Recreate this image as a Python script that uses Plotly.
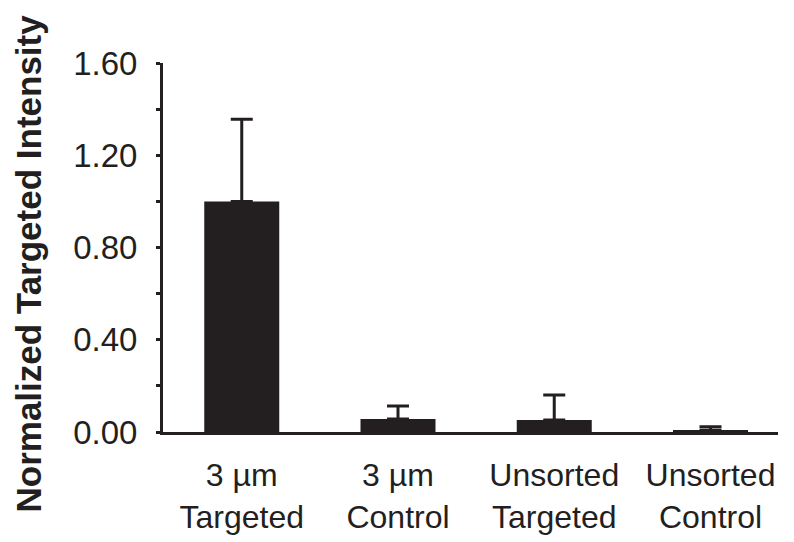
import plotly.graph_objects as go

categories = ["3 µm<br>Targeted", "3 µm<br>Control", "Unsorted<br>Targeted", "Unsorted<br>Control"]
values = [1.00, 0.056, 0.052, 0.008]
errors_plus = [0.356, 0.057, 0.108, 0.015]
ytick_vals = [0.0, 0.4, 0.8, 1.2, 1.6]
ytick_text = ["0.00", "0.40", "0.80", "1.20", "1.60"]
y_title = "Normalized Targeted Intensity"

ink = "#231f20"
font = "Liberation Sans, Arial, sans-serif"

L, R, T, B = 155, 16, 55, 110
W, H = 786, 534
PW = W - L - R

fig = go.Figure()
fig.add_trace(go.Bar(
    x=categories, y=values,
    marker=dict(color=ink, line=dict(width=0)),
    width=0.48,
    error_y=dict(type="data", symmetric=False, array=errors_plus, arrayminus=[0]*4,
                 color=ink, thickness=3, width=11),
))

fig.add_annotation(
    text="<b>" + y_title + "</b>", textangle=-90,
    xref="paper", yref="paper",
    x=(29 - 8 - L) / PW, y=0.4566,
    xanchor="center", yanchor="middle", showarrow=False,
    font=dict(size=35, family=font, color=ink),
)

fig.update_layout(
    width=W, height=H,
    margin=dict(l=L, r=R, t=T, b=B, autoexpand=False),
    paper_bgcolor="white", plot_bgcolor="white",
    showlegend=False,
    font=dict(family=font, color=ink),
    xaxis=dict(
        range=[-0.504, 3.432], automargin=False,
        showline=True, linecolor=ink, linewidth=3,
        ticks="", showgrid=False, zeroline=False,
        tickfont=dict(size=32, family=font, color=ink),
        ticklabelstandoff=13,
    ),
    yaxis=dict(
        range=[0, 1.6], automargin=False,
        tickvals=ytick_vals, ticktext=ytick_text,
        showline=True, linecolor=ink, linewidth=3,
        ticks="outside", ticklen=4, tickwidth=3, tickcolor=ink,
        minor=dict(dtick=0.2, ticks="outside", ticklen=4, tickwidth=3, tickcolor=ink),
        showgrid=False, zeroline=False,
        tickfont=dict(size=33, family=font, color=ink),
        ticklabelstandoff=12,
    ),
)

fig.write_html("out.html")
